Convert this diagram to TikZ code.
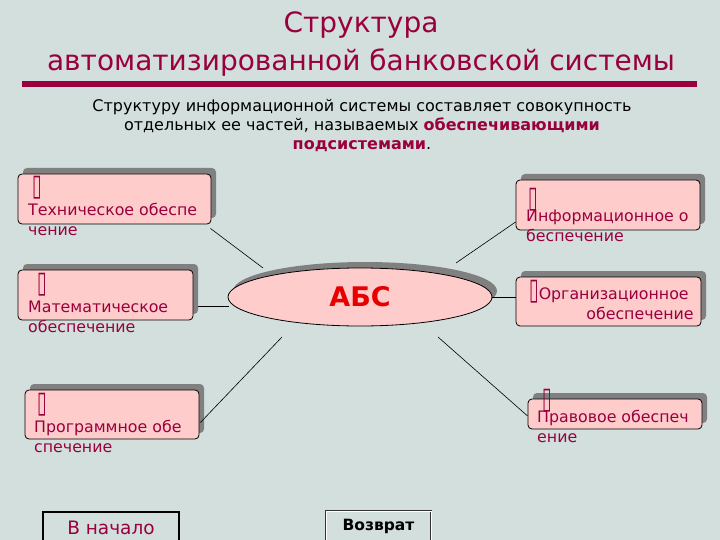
\documentclass[tikz,border=0pt]{standalone}
\usepackage{fontspec}
\usepackage{graphicx}
\setmainfont{DejaVu Sans}
\usetikzlibrary{shapes.geometric,shadows,calc}
\definecolor{bgcol}{RGB}{211,223,221}
\definecolor{wine}{RGB}{153,0,61}
\definecolor{boxpink}{RGB}{255,204,204}
\definecolor{shadowgray}{RGB}{128,128,128}
\definecolor{absred}{RGB}{230,0,0}
\newcommand{\tofu}{\scalebox{1.1}[1.9]{\textbf{▯}}}
\newcommand{\lineone}{\rule{0pt}{15pt}}
\newcommand{\uptofu}[1]{\rlap{\smash{\hspace{#1}\raisebox{14pt}{\tofu}}}}
\tikzset{
  sub/.style={draw=black, fill=boxpink, rounded corners=4pt, line width=0.8pt,
    drop shadow={shadow xshift=5pt, shadow yshift=6pt, fill=shadowgray, opacity=1},
    inner sep=0pt},
  subtext/.style={text=wine, font=\fontsize{15.8}{20}\selectfont, align=left,
    inner sep=0pt, anchor=north west},
  link/.style={black, line width=0.6pt},
}
\begin{document}
\begin{tikzpicture}[x=1pt,y=-1pt]
\fill[bgcol] (0,0) rectangle (720,540);
\useasboundingbox (0,0) rectangle (720,540);
\clip (0,0) rectangle (720,540);
% heading
\node[text=wine, font=\fontsize{28}{38}\selectfont, align=center] (head) at (361,44)
  {Структура\\автоматизированной банковской системы};
\fill[wine] (22,81) rectangle (697,87);
\node[font=\fontsize{16}{19}\selectfont, align=center] (intro) at (362,126)
  {Структуру информационной системы составляет совокупность\\
   отдельных ее частей, называемых \textcolor{wine}{\textbf{обеспечивающими}}\\
   \textcolor{wine}{\textbf{подсистемами}}.};
% centre
\node[ellipse, draw=black, fill=boxpink, line width=0.8pt, minimum width=264pt,
  minimum height=58pt,
  drop shadow={shadow xshift=5pt, shadow yshift=6pt, fill=shadowgray, opacity=1},
  text=absred, font=\fontsize{27}{30}\selectfont\bfseries] (abs) at (360,297) {АБС};
% subsystems, left
\node[sub, minimum width=193pt, minimum height=50pt] (tech) at (114.5,199) {};
\node[subtext] (techtxt) at (28,176) {\lineone\hspace{4pt}\tofu\\Техническое обеспе\\чение};
\node[sub, minimum width=175pt, minimum height=50pt] (math) at (105.5,295) {};
\node[subtext] (mathtxt) at (28,273) {\lineone\hspace{9pt}\tofu\\Математическое\\обеспечение};
\node[sub, minimum width=174pt, minimum height=49pt] (prog) at (112,414.5) {};
\node[subtext] (progtxt) at (34,393) {\lineone\hspace{3pt}\tofu\\Программное обе\\спечение};
% subsystems, right
\node[sub, minimum width=184pt, minimum height=50pt] (info) at (608,205) {};
\node[subtext] (infotxt) at (526,206) {\lineone\uptofu{2pt}Информационное о\\беспечение};
\node[sub, minimum width=185pt, minimum height=49pt] (org) at (608.5,301.5) {};
\node[subtext, align=right] (orgtxt) at (529,280)
  {\lineone\tofu Организационное\kern5pt\\обеспечение};
\node[sub, minimum width=174pt, minimum height=30pt] (law) at (615,414) {};
\node[subtext] (lawtxt) at (537,407) {\lineone\uptofu{5pt}Правовое обеспеч\\ение};
% connectors
\draw[link] ($(tech.south east)+(-1,4)$) -- ($(abs.center)+(-97,-29)$);
\draw[link] ($(math.east)+(5,11)$) -- ($(abs.west)+(1,9)$);
\draw[link] ($(prog.east)+(1,8)$) -- ($(abs.center)+(-78,40)$);
\draw[link] ($(info.west)+(0,17)$) -- ($(abs.center)+(96,-34)$);
\draw[link] (abs.east) -- (abs.east -| org.west);
\draw[link] ($(abs.center)+(78,40)$) -- ($(law.west)+(0,2)$);
% buttons
\node[draw=black, line width=1.6pt, fill=bgcol, minimum width=136pt, minimum height=32pt,
  text=wine, font=\fontsize{18.5}{20}\selectfont] (home) at (111,528) {В начало};
\node[draw=black!80, double=white, double distance=1pt, fill=bgcol, minimum width=105pt,
  minimum height=30pt, font=\fontsize{15.5}{16}\selectfont\bfseries] (back) at (378.5,526) {Возврат};
\end{tikzpicture}
\end{document}
